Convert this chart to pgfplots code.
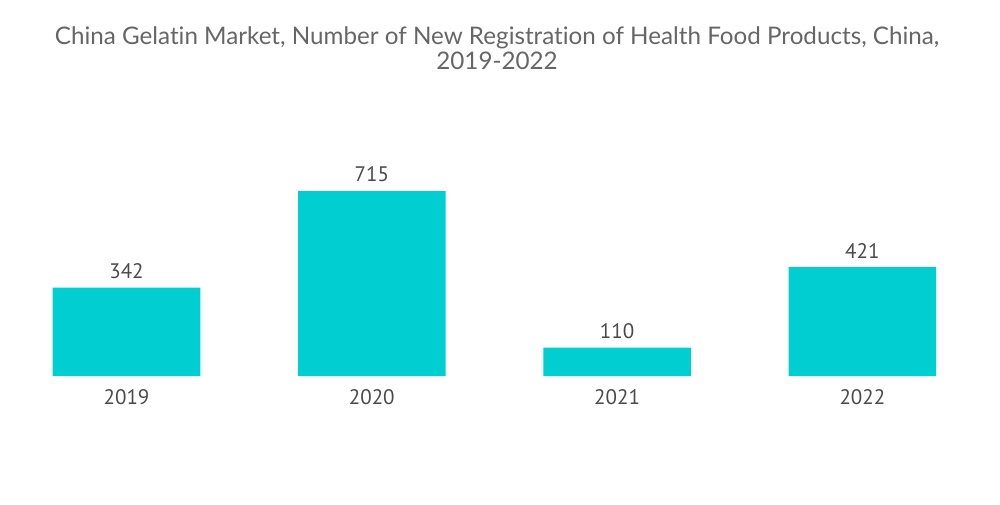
\documentclass[border=0pt]{standalone}
\usepackage{pgfplots}
\pgfplotsset{compat=1.18}
\usepackage{fontspec}
\setmainfont{PT Sans}
\newfontfamily\titlefont[Ligatures=NoCommon]{Lato}
\definecolor{barcyan}{HTML}{00CED1}
\definecolor{titlegray}{HTML}{666666}
\definecolor{labelgray}{HTML}{4A4A4A}
\begin{document}
\begin{tikzpicture}
  % 1 px of the reference = 0.5pt
  \begin{axis}
    [ at={(0,0)}, anchor=south west
    , scale only axis
    , width=490.6pt
    , height=103.5pt
    , xmin=-0.5, xmax=3.5
    , ymin=0, ymax=800
    , ybar
    , bar width=73.8pt
    , axis line style={draw=none}
    , ytick=\empty
    , xtick=data
    , xticklabels={2019, 2020, 2021, 2022}
    , major tick length=0pt
    , xticklabel style={font=\fontsize{10.5}{12}\selectfont, text=labelgray, yshift=-3pt}
    , nodes near coords
    , every node near coord/.append style={font=\fontsize{10.5}{12}\selectfont, text=labelgray, yshift=1pt}
    , /pgf/number format/assume math mode=true
    , clip=false
    ]
    \addplot[fill=barcyan, draw=none] coordinates {(0,342) (1,715) (2,110) (3,421)};
  \end{axis}
  \node[align=center, text=titlegray, font=\titlefont\fontsize{12.1}{12.6}\selectfont]
    at (246.6pt,164pt) {China Gelatin Market, Number of New Registration of Health Food Products, China,\\2019-2022};
  \path (-1.925pt,-64pt) rectangle (498.075pt,188pt);
\end{tikzpicture}
\end{document}
